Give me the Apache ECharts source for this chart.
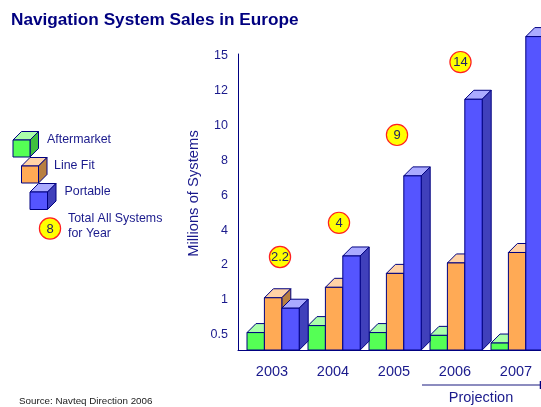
<!DOCTYPE html>
<html><head><meta charset="utf-8">
<style>html,body{margin:0;padding:0;background:#fff}#c{width:541px;height:407px}</style>
<script src="https://cdn.jsdelivr.net/npm/echarts@6/dist/echarts.min.js"></script>
</head><body><div id="c"></div>
<script>
const years = ['2003','2004','2005','2006','2007'];
const aftermarket = [0.5,0.6,0.5,0.42,0.2];
const lineFit = [1,1.3,1.7,2,2.6];
const portable = [0.85,2.4,7,11.4,16.5];
const totals = ['2.2','4','9','14'];
const totalLevels = [2.4,4.36,9.41,14.39];
const tickValues = [0,0.5,1,2,4,6,8,10,12,15,18];

const NAVY='#000080', TEXT='#1a1a8c', FONT='Arial, "Liberation Sans", sans-serif';
const PALETTE=[
 {front:'#55ff55',top:'#aaffaa',side:'#40bf40'},
 {front:'#ffaa55',top:'#ffd2a6',side:'#b87f40'},
 {front:'#5555ff',top:'#aaaaff',side:'#4040bb'}];
const W=17.4,D=9;
const BUBBLE_DX=[11.5,9.5,6.5,9];

// The printed axis is not linear: its ticks are evenly spaced. Map value -> slot on that axis.
function slot(v){
  for(let i=1;i<tickValues.length;i++){
    if(v<=tickValues[i]){
      const a=tickValues[i-1],b=tickValues[i];
      const pa=i===1?0:2*i-3, pb=2*i-1;
      return pa+(pb-pa)*(v-a)/(b-a);
    }
  }
  return 2*tickValues.length-3;
}
function cube(x,top,base,w,d,c,lw){
  const s={stroke:NAVY,lineWidth:lw};
  return [
   {type:'polygon',shape:{points:[[x,top],[x+d,top-d],[x+w+d,top-d],[x+w,top]]},style:{fill:c.top,...s}},
   {type:'polygon',shape:{points:[[x+w,top],[x+w+d,top-d],[x+w+d,base-d],[x+w,base]]},style:{fill:c.side,...s}},
   {type:'rect',shape:{x:x,y:top,width:w,height:base-top},style:{fill:c.front,...s}}
  ];
}
function barSeries(name,values,k){
  return {type:'custom',name,coordinateSystem:'cartesian2d',clip:false,
    data:values.map((v,i)=>[i,slot(v)]),
    renderItem(p,api){
      const c=api.coord([api.value(0),0]);
      const t=api.coord([api.value(0),api.value(1)]);
      const x=c[0]-21.5+k*W;
      return {type:'group',children:cube(x,t[1],c[1],W,D,PALETTE[k],1)};
    }};
}
const bubbleSeries={type:'custom',name:'Total',coordinateSystem:'cartesian2d',clip:false,z:5,
  data:totalLevels.map((v,i)=>[i,slot(v),totals[i]]),
  renderItem(p,api){
    const i=api.value(0);
    const t=api.coord([i,api.value(1)]);
    return bubble(t[0]+BUBBLE_DX[i],t[1]+1,String(api.value(2)));
  }};
function bubble(x,y,txt){
  return {type:'group',children:[
    {type:'circle',shape:{cx:x,cy:y,r:10.6},style:{fill:'#ffff00',stroke:'#ff2020',lineWidth:1.2}},
    {type:'text',style:{x:x,y:y+0.5,text:txt,align:'center',verticalAlign:'middle',fill:'#222266',font:'13px '+FONT}}
  ]};
}
const legendText=(x,y,t)=>({type:'text',style:{x,y,text:t,fill:TEXT,font:'12.4px '+FONT,verticalAlign:'middle'}});
const g=[
 {type:'text',style:{x:11,y:20,text:'Navigation System Sales in Europe',fill:NAVY,font:'bold 17.2px '+FONT,verticalAlign:'middle'}},
 {type:'text',style:{x:19,y:401.5,text:'Source: Navteq Direction 2006',fill:'#222222',font:'9.8px '+FONT,verticalAlign:'middle'}},
 {type:'text',style:{x:193.5,y:193.5,text:'Millions of Systems',fill:TEXT,font:'14.8px '+FONT,align:'center',verticalAlign:'middle'},rotation:Math.PI/2,originX:193.5,originY:193.5},
 {type:'group',children:cube(13,140,157,17,8.5,PALETTE[0],1)},
 {type:'group',children:cube(21.5,166,183,17,8.5,PALETTE[1],1)},
 {type:'group',children:cube(30,192,209.5,17.5,8.5,PALETTE[2],1)},
 legendText(47,140,'Aftermarket'),
 legendText(54,166,'Line Fit'),
 legendText(64.5,192,'Portable'),
 legendText(68,219,'Total All Systems'),
 legendText(68,234,'for Year'),
 bubble(50,228.5,'8'),
 {type:'line',shape:{x1:422,y1:385,x2:541,y2:385},style:{stroke:'#6666aa',lineWidth:1.5}},
 {type:'line',shape:{x1:540.5,y1:381,x2:540.5,y2:389},style:{stroke:NAVY,lineWidth:1.5}},
 {type:'text',style:{x:481,y:398,text:'Projection',fill:TEXT,font:'14.5px '+FONT,align:'center',verticalAlign:'middle'}}
];
const chart=echarts.init(document.getElementById('c'),null,{renderer:'canvas'});
chart.setOption({
  animation:false,backgroundColor:'#fff',
  grid:{left:238,top:54,width:305,height:296,outerBoundsMode:'none'},
  xAxis:{type:'category',data:years,
    axisLine:{lineStyle:{color:NAVY,width:1}},axisTick:{show:false},
    axisLabel:{color:TEXT,fontFamily:FONT,fontSize:14.5,margin:14,padding:[0,0,0,7],interval:0}},
  yAxis:{type:'value',min:0,max:17,interval:1,
    axisLine:{show:true,lineStyle:{color:NAVY,width:1}},axisTick:{show:false},splitLine:{show:false},
    axisLabel:{color:TEXT,fontFamily:FONT,fontSize:12.5,margin:10,verticalAlign:'top',lineHeight:4,showMinLabel:true,showMaxLabel:true,
      formatter:v=>{const i=(v+1)/2;return Number.isInteger(i)&&i>=1?String(tickValues[i]):'';}}},
  series:[barSeries('Aftermarket',aftermarket,0),barSeries('Line Fit',lineFit,1),barSeries('Portable',portable,2),bubbleSeries],
  graphic:{elements:g}
});
</script></body></html>
